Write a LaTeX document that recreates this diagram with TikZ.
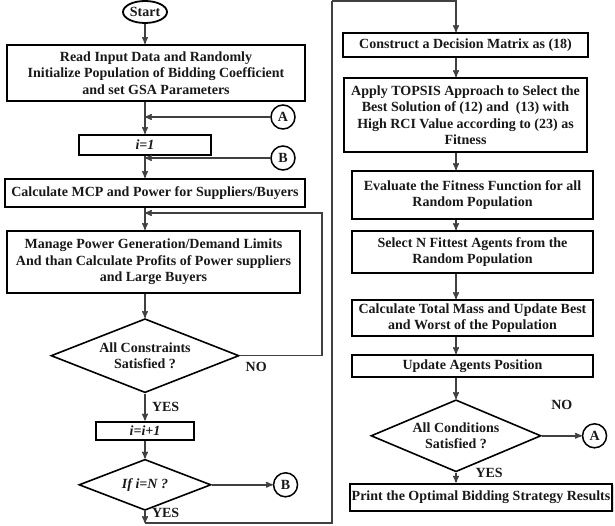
\documentclass[tikz,border=0pt]{standalone}
\usepackage{fontspec}
\setmainfont{Liberation Serif}
\usetikzlibrary{positioning,arrows,shapes.geometric,shadows}

\tikzset{
	proc/.style={draw,rectangle,line width=2pt,fill=white,align=center,inner sep=2pt,drop shadow={shadow xshift=1.2pt,shadow yshift=-1.2pt,opacity=0.3}},
	decision/.style={draw,diamond,line width=1.6pt,fill=white,align=center,inner sep=0pt,shape aspect=2.5},
	conn/.style={draw,circle,line width=1.5pt,minimum size=24pt,inner sep=0pt},
	flow/.style={line width=1.4pt,draw=black!75},
	ital/.style={font=\fontsize{14}{16.5}\selectfont\bfseries\itshape}
}

\begin{document}
\begin{tikzpicture}[->,>=stealth',x=1pt,y=-1pt,every node/.style={font=\fontsize{14}{16.5}\selectfont\bfseries,text=black!90}]
	\useasboundingbox (0,0) rectangle (615,526);
	\coordinate (lx) at (145,0);
	\coordinate (rx) at (456,0);

	\node[draw,ellipse,line width=1.8pt,minimum width=44pt,minimum height=22pt,inner sep=0pt] (start) at (145,12) {Start};
	\node[proc,minimum width=298pt,minimum height=56pt] (read) [below=20pt of start,xshift=11pt] {Read Input Data and Randomly\\Initialize Population of Bidding Coefficient\\and set GSA Parameters};
	\node[proc,ital,minimum width=132pt,minimum height=20pt] (init) [below=32pt of read,xshift=-11pt] {i=1};
	\node[proc,minimum width=300pt,minimum height=28pt] (calc) [below=22pt of init,xshift=10pt] {Calculate MCP and Power for Suppliers/Buyers};
	\node[proc,minimum width=293pt,minimum height=62pt] (manage) [below=22pt of calc,xshift=-1.5pt] {Manage Power Generation/Demand Limits\\And than Calculate Profits of Power suppliers\\and Large Buyers};
	\node[decision,minimum width=188pt,minimum height=74pt] (cons) [below=24pt of manage,xshift=-8.5pt] {All Constraints\\Satisfied ?};
	\node[proc,ital,minimum width=98pt,minimum height=18pt] (incr) [below=27pt of cons] {i=i+1};
	\node[decision,ital,minimum width=132pt,minimum height=51pt] (last) [below=18pt of incr] {If i=N ?};
	\node[conn] (B2) [right=61pt of last] {B};
	\node[conn] (A1) at (283,117) {A};
	\node[conn] (B1) at (283,158) {B};

	\node[proc,minimum width=245pt,minimum height=24pt] (matrix) at (465.5,45) {Construct a Decision Matrix as (18)};
	\node[proc,minimum width=243pt,minimum height=74pt] (topsis) [below=19pt of matrix] {Apply TOPSIS Approach to Select the\\Best Solution of (12) and~~(13) with\\High RCI Value according to (23) as\\Fitness};
	\node[proc,minimum width=241pt,minimum height=48pt] (evalf) [below=17pt of topsis,xshift=7pt] {Evaluate the Fitness Function for all\\Random Population};
	\node[proc,minimum width=241pt,minimum height=42pt] (fittest) [below=10pt of evalf] {Select N Fittest Agents from the\\Random Population};
	\node[proc,minimum width=241pt,minimum height=36pt] (mass) [below=25pt of fittest] {Calculate Total Mass and Update Best\\and Worst of the Population};
	\node[proc,minimum width=241pt,minimum height=22pt] (update) [below=17pt of mass] {Update Agents Position};
	\node[decision,minimum width=170pt,minimum height=72pt] (cond) [below=21pt of update,xshift=-16.5pt] {All Conditions\\Satisfied ?};
	\node[proc,minimum width=262pt,minimum height=27pt] (print) [below=10pt of cond,xshift=25pt] {Print the Optimal Bidding Strategy Results};
	\node[conn] (A2) [right=40pt of cond] {A};
	\node (yes3) [right=16pt of cond.south] {YES};

	\coordinate (loopc) at (322,213);
	\coordinate (c1) at (145,523);
	\coordinate (c2) at (332,523);
	\coordinate (c3) at (332,1);

	\draw[flow] (start) -- (read.north -| start);
	\draw[flow] (read.south -| lx) -- (init.north -| lx);
	\draw[flow] (A1.west) -- (A1.west -| lx);
	\draw[flow] (init.south -| lx) -- (calc.north -| lx);
	\draw[flow] (B1.west) -- (B1.west -| lx);
	\draw[flow] (calc.south -| lx) -- (manage.north -| lx);
	\draw[flow] (manage.south -| lx) -- (cons.north);
	\draw[flow] (cons.east) -| node[pos=0.1,below=2pt]{NO} (loopc) -- (loopc -| lx);
	\draw[flow] (cons.south) -- node[right=3pt]{YES} (incr.north);
	\draw[flow] (incr) -- (last);
	\draw[flow] (last) -- (B2);
	\draw[flow] (last.south) -- node[right=3pt,pos=0.3,yshift=2pt]{YES} (c1);
	\draw[flow,-] (c1) -- (c2) -- (c3);
	\draw[flow] (c3) -| (matrix.north -| rx);

	\draw[flow] (matrix.south -| rx) -- (topsis.north -| rx);
	\draw[flow] (topsis.south -| rx) -- (evalf.north -| rx);
	\draw[flow] (evalf.south -| rx) -- (fittest.north -| rx);
	\draw[flow] (fittest.south -| rx) -- (mass.north -| rx);
	\draw[flow] (mass.south -| rx) -- (update.north -| rx);
	\draw[flow] (update.south -| rx) -- (cond.north);
	\draw[flow] (cond) -- node[above=22pt]{NO} (A2);
	\draw[flow] (cond.south) -- (print.north -| cond);
\end{tikzpicture}
\end{document}
